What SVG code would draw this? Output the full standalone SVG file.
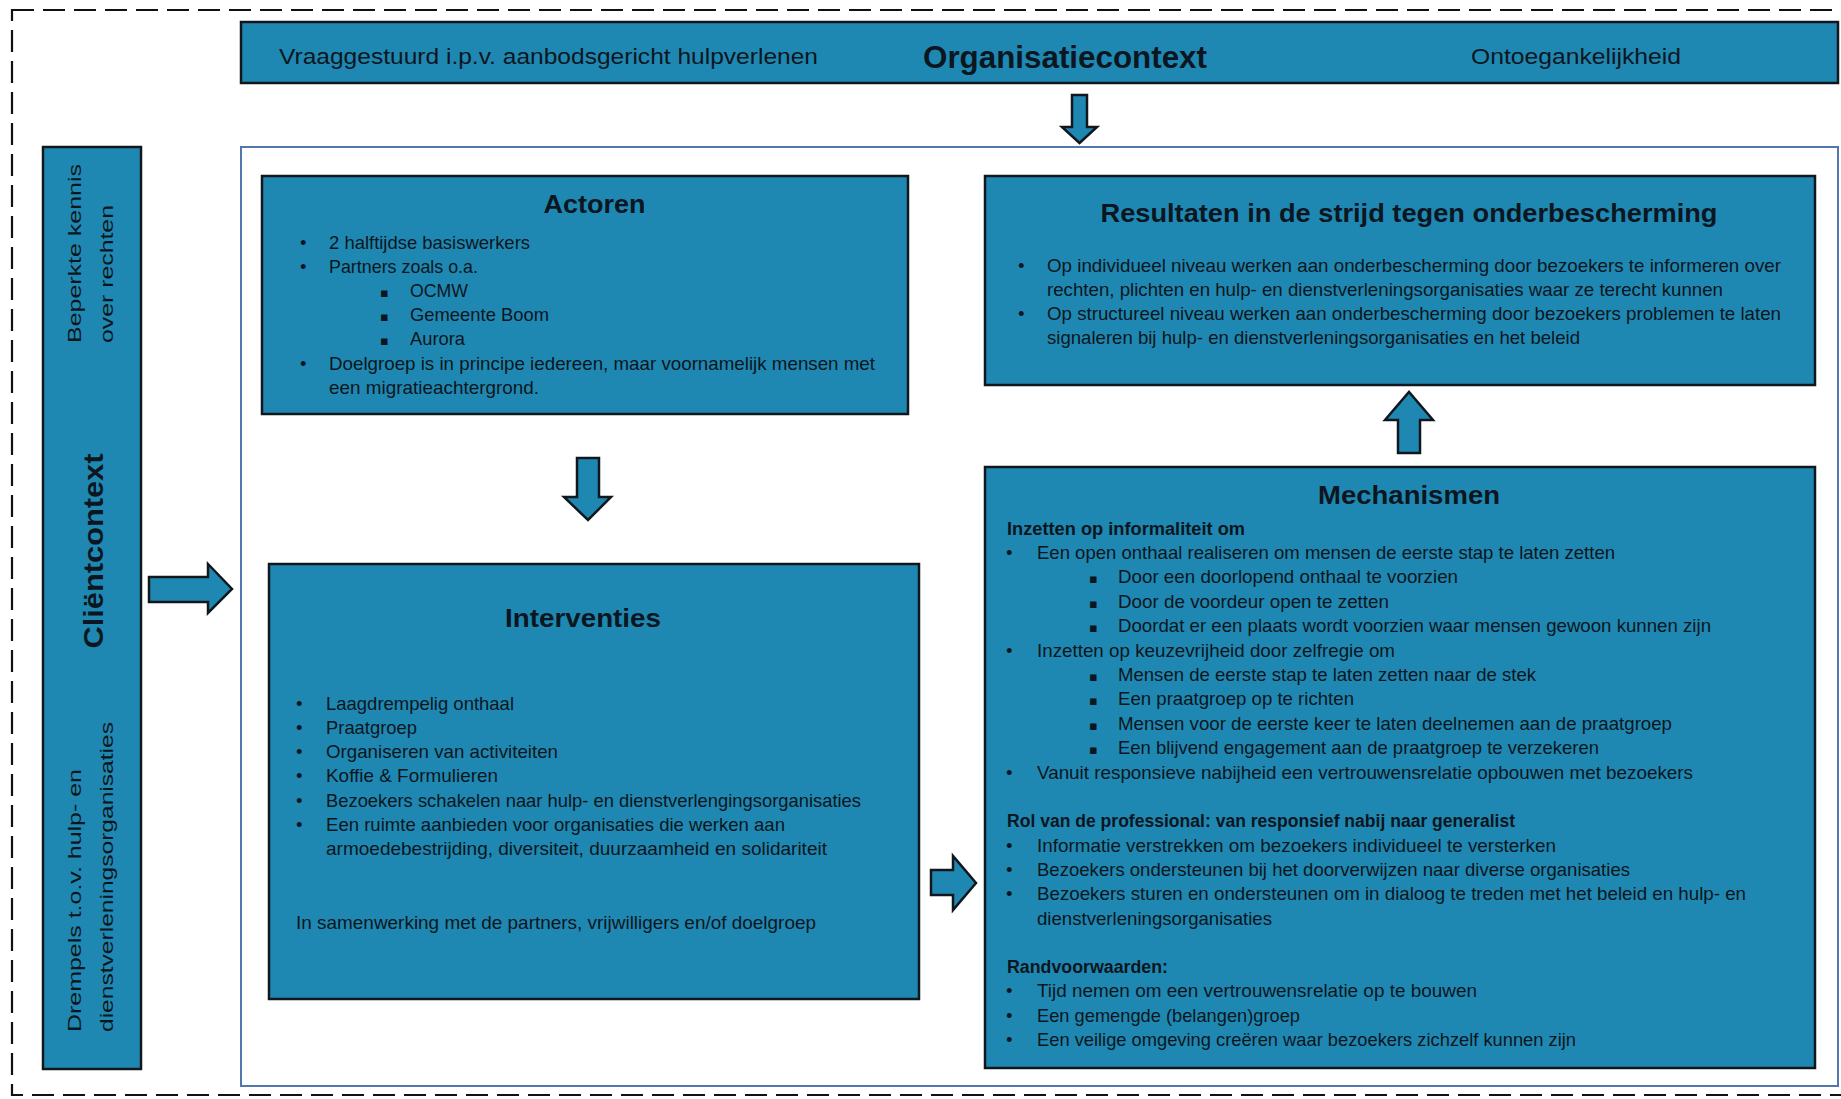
<svg xmlns="http://www.w3.org/2000/svg" width="1841" height="1099" viewBox="0 0 1841 1099">
  <style>
    .box { fill: #1f88b2; stroke: #10171d; stroke-width: 2.5; }
    .frame { fill: none; stroke: #5277ad; stroke-width: 2; }
    .border { fill: none; stroke: #111; stroke-width: 2.2; stroke-dasharray: 22 9; }
    .arrow { fill: #1f88b2; stroke: #10171d; stroke-width: 2.5; stroke-linejoin: miter; }
    text { font-family: "Liberation Sans", Arial, sans-serif; fill: #0c1620; }
    .body { font-size: 18.5px; }
    .head { font-size: 26px; font-weight: bold; text-anchor: middle; }
    .sub { font-size: 18px; font-weight: bold; }
    .bar { font-size: 22px; }
    .dot { font-size: 18.5px; }
    .sq { font-family: "DejaVu Sans", sans-serif; font-size: 13px; }
  </style>

  <rect width="1841" height="1099" fill="#ffffff"/>

  <!-- dashed outer border (right side runs off the page) -->
  <rect class="border" x="12" y="10" width="1850" height="1085"/>

  <!-- framed area holding the four content blocks -->
  <rect class="frame" x="241" y="147" width="1597" height="939"/>

  <!-- top bar: organisation context -->
  <g id="organisatiecontext">
    <rect class="box" x="241" y="22" width="1597" height="61"/>
    <text class="bar" x="279" y="64" textLength="539" lengthAdjust="spacingAndGlyphs">Vraaggestuurd i.p.v. aanbodsgericht hulpverlenen</text>
    <text x="923" y="68" font-size="31" font-weight="bold" textLength="284" lengthAdjust="spacingAndGlyphs">Organisatiecontext</text>
    <text class="bar" x="1471" y="64" textLength="210" lengthAdjust="spacingAndGlyphs">Ontoegankelijkheid</text>
  </g>

  <!-- left bar: client context, vertical text -->
  <g id="clientcontext">
    <rect class="box" x="43" y="147" width="98" height="922"/>
    <text class="body" transform="translate(81,343) rotate(-90)" textLength="179" lengthAdjust="spacingAndGlyphs">Beperkte kennis</text>
    <text class="body" transform="translate(113,343) rotate(-90)" textLength="138" lengthAdjust="spacingAndGlyphs">over rechten</text>
    <text transform="translate(103,551) rotate(-90)" font-size="28" font-weight="bold" text-anchor="middle" textLength="195" lengthAdjust="spacingAndGlyphs">Cliëntcontext</text>
    <text class="body" transform="translate(81,1032) rotate(-90)" textLength="263" lengthAdjust="spacingAndGlyphs">Drempels t.o.v. hulp- en</text>
    <text class="body" transform="translate(113,1032) rotate(-90)" textLength="310" lengthAdjust="spacingAndGlyphs">dienstverleningsorganisaties</text>
  </g>

  <!-- Actoren -->
  <g id="actoren">
    <rect class="box" x="262" y="176" width="646" height="238"/>
    <text class="head" x="594.5" y="213" textLength="102" lengthAdjust="spacingAndGlyphs">Actoren</text>
    <g class="body">
      <text class="dot" x="300" y="248.5">•</text>
      <text x="329" y="248.5" textLength="201" lengthAdjust="spacingAndGlyphs">2 halftijdse basiswerkers</text>
      <text class="dot" x="300" y="272.7">•</text>
      <text x="329" y="272.7" textLength="149" lengthAdjust="spacingAndGlyphs">Partners zoals o.a.</text>
      <text class="sq" x="380" y="296.9">▪</text>
      <text x="410" y="296.9" textLength="58" lengthAdjust="spacingAndGlyphs">OCMW</text>
      <text class="sq" x="380" y="321.1">▪</text>
      <text x="410" y="321.1" textLength="139" lengthAdjust="spacingAndGlyphs">Gemeente Boom</text>
      <text class="sq" x="380" y="345.3">▪</text>
      <text x="410" y="345.3" textLength="55" lengthAdjust="spacingAndGlyphs">Aurora</text>
      <text class="dot" x="300" y="369.5">•</text>
      <text x="329" y="369.5" textLength="546" lengthAdjust="spacingAndGlyphs">Doelgroep is in principe iedereen, maar voornamelijk mensen met</text>
      <text x="329" y="393.7" textLength="210" lengthAdjust="spacingAndGlyphs">een migratieachtergrond.</text>
    </g>
  </g>

  <!-- Resultaten -->
  <g id="resultaten">
    <rect class="box" x="985" y="176" width="830" height="209"/>
    <text class="head" x="1409" y="222" textLength="617" lengthAdjust="spacingAndGlyphs">Resultaten in de strijd tegen onderbescherming</text>
    <g class="body">
      <text class="dot" x="1018" y="272">•</text>
      <text x="1047" y="272" textLength="734" lengthAdjust="spacingAndGlyphs">Op individueel niveau werken aan onderbescherming door bezoekers te informeren over</text>
      <text x="1047" y="296" textLength="676" lengthAdjust="spacingAndGlyphs">rechten, plichten en hulp- en dienstverleningsorganisaties waar ze terecht kunnen</text>
      <text class="dot" x="1018" y="320">•</text>
      <text x="1047" y="320" textLength="734" lengthAdjust="spacingAndGlyphs">Op structureel niveau werken aan onderbescherming door bezoekers problemen te laten</text>
      <text x="1047" y="344" textLength="533" lengthAdjust="spacingAndGlyphs">signaleren bij hulp- en dienstverleningsorganisaties en het beleid</text>
    </g>
  </g>

  <!-- Interventies -->
  <g id="interventies">
    <rect class="box" x="269" y="564" width="650" height="435"/>
    <text class="head" x="583" y="627" font-size="27" textLength="156" lengthAdjust="spacingAndGlyphs">Interventies</text>
    <g class="body">
      <text class="dot" x="296" y="709.5">•</text>
      <text x="326" y="709.5" textLength="188" lengthAdjust="spacingAndGlyphs">Laagdrempelig onthaal</text>
      <text class="dot" x="296" y="733.8">•</text>
      <text x="326" y="733.8" textLength="91" lengthAdjust="spacingAndGlyphs">Praatgroep</text>
      <text class="dot" x="296" y="758.1">•</text>
      <text x="326" y="758.1" textLength="232" lengthAdjust="spacingAndGlyphs">Organiseren van activiteiten</text>
      <text class="dot" x="296" y="782.4">•</text>
      <text x="326" y="782.4" textLength="172" lengthAdjust="spacingAndGlyphs">Koffie &amp; Formulieren</text>
      <text class="dot" x="296" y="806.7">•</text>
      <text x="326" y="806.7" textLength="535" lengthAdjust="spacingAndGlyphs">Bezoekers schakelen naar hulp- en dienstverlengingsorganisaties</text>
      <text class="dot" x="296" y="831">•</text>
      <text x="326" y="831" textLength="459" lengthAdjust="spacingAndGlyphs">Een ruimte aanbieden voor organisaties die werken aan</text>
      <text x="326" y="855.3" textLength="501" lengthAdjust="spacingAndGlyphs">armoedebestrijding, diversiteit, duurzaamheid en solidariteit</text>
      <text x="296" y="928.5" textLength="520" lengthAdjust="spacingAndGlyphs">In samenwerking met de partners, vrijwilligers en/of doelgroep</text>
    </g>
  </g>

  <!-- Mechanismen -->
  <g id="mechanismen">
    <rect class="box" x="985" y="467" width="830" height="601"/>
    <text class="head" x="1409" y="504" font-size="27" textLength="182" lengthAdjust="spacingAndGlyphs">Mechanismen</text>
    <g class="body">
      <text class="sub" x="1007" y="535" textLength="238" lengthAdjust="spacingAndGlyphs">Inzetten op informaliteit om</text>
      <text class="dot" x="1006" y="559">•</text>
      <text x="1037" y="559" textLength="578" lengthAdjust="spacingAndGlyphs">Een open onthaal realiseren om mensen de eerste stap te laten zetten</text>
      <text class="sq" x="1089" y="583.4">▪</text>
      <text x="1118" y="583.4" textLength="340" lengthAdjust="spacingAndGlyphs">Door een doorlopend onthaal te voorzien</text>
      <text class="sq" x="1089" y="607.8">▪</text>
      <text x="1118" y="607.8" textLength="271" lengthAdjust="spacingAndGlyphs">Door de voordeur open te zetten</text>
      <text class="sq" x="1089" y="632.2">▪</text>
      <text x="1118" y="632.2" textLength="593" lengthAdjust="spacingAndGlyphs">Doordat er een plaats wordt voorzien waar mensen gewoon kunnen zijn</text>
      <text class="dot" x="1006" y="656.6">•</text>
      <text x="1037" y="656.6" textLength="358" lengthAdjust="spacingAndGlyphs">Inzetten op keuzevrijheid door zelfregie om</text>
      <text class="sq" x="1089" y="681">▪</text>
      <text x="1118" y="681" textLength="418" lengthAdjust="spacingAndGlyphs">Mensen de eerste stap te laten zetten naar de stek</text>
      <text class="sq" x="1089" y="705.4">▪</text>
      <text x="1118" y="705.4" textLength="236" lengthAdjust="spacingAndGlyphs">Een praatgroep op te richten</text>
      <text class="sq" x="1089" y="729.8">▪</text>
      <text x="1118" y="729.8" textLength="554" lengthAdjust="spacingAndGlyphs">Mensen voor de eerste keer te laten deelnemen aan de praatgroep</text>
      <text class="sq" x="1089" y="754.2">▪</text>
      <text x="1118" y="754.2" textLength="481" lengthAdjust="spacingAndGlyphs">Een blijvend engagement aan de praatgroep te verzekeren</text>
      <text class="dot" x="1006" y="778.6">•</text>
      <text x="1037" y="778.6" textLength="656" lengthAdjust="spacingAndGlyphs">Vanuit responsieve nabijheid een vertrouwensrelatie opbouwen met bezoekers</text>

      <text class="sub" x="1007" y="827" textLength="508" lengthAdjust="spacingAndGlyphs">Rol van de professional: van responsief nabij naar generalist</text>
      <text class="dot" x="1006" y="851.5">•</text>
      <text x="1037" y="851.5" textLength="519" lengthAdjust="spacingAndGlyphs">Informatie verstrekken om bezoekers individueel te versterken</text>
      <text class="dot" x="1006" y="875.9">•</text>
      <text x="1037" y="875.9" textLength="593" lengthAdjust="spacingAndGlyphs">Bezoekers ondersteunen bij het doorverwijzen naar diverse organisaties</text>
      <text class="dot" x="1006" y="900.3">•</text>
      <text x="1037" y="900.3" textLength="709" lengthAdjust="spacingAndGlyphs">Bezoekers sturen en ondersteunen om in dialoog te treden met het beleid en hulp- en</text>
      <text x="1037" y="924.7" textLength="235" lengthAdjust="spacingAndGlyphs">dienstverleningsorganisaties</text>

      <text class="sub" x="1007" y="973" textLength="161" lengthAdjust="spacingAndGlyphs">Randvoorwaarden:</text>
      <text class="dot" x="1006" y="997.4">•</text>
      <text x="1037" y="997.4" textLength="440" lengthAdjust="spacingAndGlyphs">Tijd nemen om een vertrouwensrelatie op te bouwen</text>
      <text class="dot" x="1006" y="1021.8">•</text>
      <text x="1037" y="1021.8" textLength="263" lengthAdjust="spacingAndGlyphs">Een gemengde (belangen)groep</text>
      <text class="dot" x="1006" y="1046.2">•</text>
      <text x="1037" y="1046.2" textLength="539" lengthAdjust="spacingAndGlyphs">Een veilige omgeving creëren waar bezoekers zichzelf kunnen zijn</text>
    </g>
  </g>

  <!-- block arrows between the parts -->
  <g id="connectors">
    <polygon class="arrow" points="1072,95 1087,95 1087,127 1097,127 1079.5,143 1062,127 1072,127"/>
    <polygon class="arrow" points="149,577 208,577 208,564 232,589 208,613 208,602 149,602"/>
    <polygon class="arrow" points="577,458 599,458 599,497 611,497 588,520 564,497 577,497"/>
    <polygon class="arrow" points="931,870 953,870 953,856 976,883 953,910 953,895 931,895"/>
    <polygon class="arrow" points="1398,453 1420,453 1420,420 1433,420 1409,392 1385,420 1398,420"/>
  </g>
</svg>
